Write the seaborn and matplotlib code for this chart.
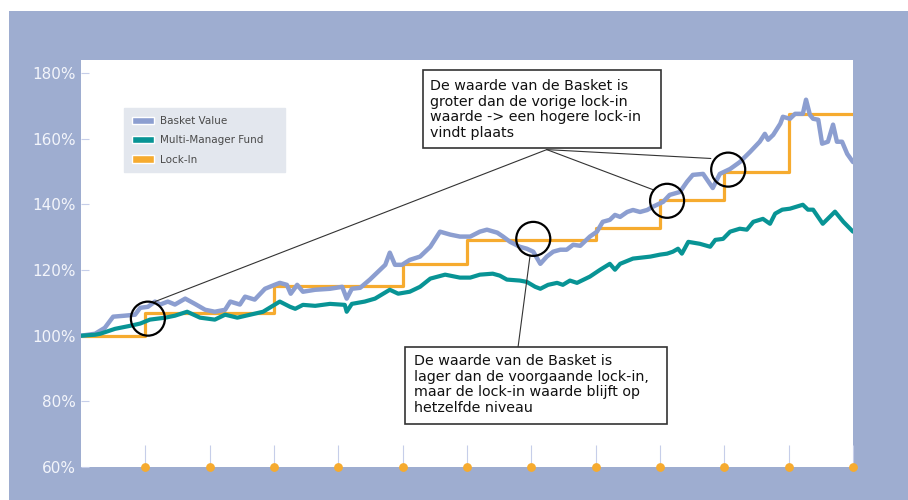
"""Basket value vs. multi-manager fund with lock-in levels."""

import matplotlib

matplotlib.use("Agg")
import matplotlib.pyplot as plt
import seaborn as sns
from matplotlib.patches import Patch, Rectangle

# --- data ----------------------------------------------------------------
basket_x = [0.00, 0.22, 0.37, 0.50, 0.68, 0.84, 0.92, 1.04, 1.15, 1.23,
            1.35, 1.46, 1.62, 1.77, 1.93, 2.08, 2.24, 2.32, 2.47, 2.55,
            2.70, 2.86, 3.01, 3.09, 3.20, 3.26, 3.36, 3.45, 3.64, 3.87,
            4.06, 4.13, 4.21, 4.34, 4.49, 4.65, 4.73, 4.80, 4.88, 4.99,
            5.11, 5.27, 5.35, 5.43, 5.58, 5.74, 5.89, 6.05, 6.20, 6.31,
            6.47, 6.56, 6.67, 6.82, 6.93, 7.03, 7.14, 7.24, 7.34, 7.45,
            7.55, 7.65, 7.76, 7.91, 8.02, 8.11, 8.22, 8.30, 8.38, 8.49,
            8.58, 8.69, 8.80, 8.89, 9.05, 9.15, 9.31, 9.42, 9.51, 9.67,
            9.82, 9.93, 10.09, 10.24, 10.40, 10.55, 10.63, 10.68, 10.76, 10.87,
            10.91, 11.02, 11.10, 11.22, 11.27, 11.33, 11.38, 11.46, 11.52, 11.61,
            11.69, 11.75, 11.83, 11.91, 12.00]
basket_y = [100.0, 100.6, 102.4, 105.8, 106.1, 106.4, 108.5, 108.8, 110.4, 109.5,
            110.4, 109.5, 111.3, 109.7, 107.9, 107.3, 107.9, 110.4, 109.5, 111.9,
            111.0, 114.3, 115.5, 116.1, 115.5, 112.8, 115.5, 113.4, 114.0, 114.3,
            114.9, 111.3, 114.3, 114.6, 117.1, 120.1, 121.6, 125.3, 121.6, 121.6,
            123.1, 124.1, 125.6, 127.1, 131.7, 130.8, 130.2, 130.2, 131.7, 132.3,
            131.4, 130.2, 128.6, 127.1, 126.5, 125.6, 121.9, 124.1, 125.6, 126.2,
            126.2, 127.7, 127.4, 130.2, 131.7, 134.7, 135.3, 136.8, 136.2, 137.7,
            138.3, 137.7, 138.3, 139.3, 140.8, 142.9, 143.8, 146.9, 149.0, 149.3,
            145.0, 149.3, 150.8, 152.9, 156.0, 159.1, 161.5, 159.7, 161.2, 164.6,
            166.7, 166.1, 167.6, 167.6, 171.9, 167.3, 166.1, 165.8, 158.5, 159.1,
            164.3, 159.1, 159.1, 155.4, 152.9]

fund_x = [0.00, 0.22, 0.30, 0.53, 0.76, 0.92, 1.07, 1.31, 1.46, 1.65,
          1.85, 2.08, 2.24, 2.43, 2.63, 2.83, 3.09, 3.25, 3.33, 3.45,
          3.64, 3.87, 4.10, 4.13, 4.21, 4.41, 4.57, 4.80, 4.93, 5.11,
          5.27, 5.43, 5.66, 5.89, 6.05, 6.20, 6.40, 6.51, 6.62, 6.82,
          6.93, 7.06, 7.14, 7.26, 7.40, 7.49, 7.60, 7.71, 7.91, 8.07,
          8.22, 8.30, 8.38, 8.58, 8.85, 9.00, 9.11, 9.20, 9.28, 9.34,
          9.44, 9.62, 9.78, 9.86, 9.98, 10.09, 10.24, 10.35, 10.45, 10.60,
          10.71, 10.79, 10.90, 11.02, 11.22, 11.30, 11.38, 11.53, 11.72, 11.85,
          12.00]
fund_y = [100.0, 100.3, 100.6, 102.1, 103.0, 103.7, 104.9, 105.5, 106.1, 107.3,
          105.5, 104.9, 106.4, 105.5, 106.4, 107.3, 110.4, 108.8, 108.2, 109.4,
          109.1, 109.7, 109.4, 107.3, 109.7, 110.4, 111.3, 114.0, 112.8, 113.4,
          114.9, 117.4, 118.6, 117.7, 117.7, 118.6, 118.9, 118.3, 117.1, 116.8,
          116.4, 114.9, 114.3, 115.5, 116.1, 115.5, 116.8, 116.1, 118.0, 120.1,
          121.9, 120.1, 121.9, 123.5, 124.1, 124.7, 125.0, 125.6, 126.5, 125.0,
          128.6, 128.0, 127.1, 129.2, 129.5, 131.7, 132.6, 132.3, 134.7, 135.6,
          134.1, 137.2, 138.4, 138.7, 139.9, 138.4, 138.4, 134.1, 137.8, 134.7,
          131.7]

lock_x = [0, 1, 3, 5, 6, 8, 9, 10, 11, 12]
lock_y = [100.0, 106.8, 115.0, 122.0, 129.2, 132.8, 141.4, 150.0, 167.6, 167.6]

year_ticks = list(range(1, 13))
pct_ticks = [60, 80, 100, 120, 140, 160, 180]

# lock-in moments that are circled, and where the notes point from
circle_x = [1.04, 7.03, 9.11, 10.06]
circle_y = [105.2, 129.5, 141.1, 150.6]
up_anchor = (7.24, 156.7)
up_targets = [(1.15, 110.4), (8.89, 144.5), (9.79, 154.0)]
down_anchor = (6.79, 96.0)
down_target = (6.98, 124.4)

note_up = ("De waarde van de Basket is\ngroter dan de vorige lock-in\n"
           "waarde -> een hogere lock-in\nvindt plaats")
note_down = ("De waarde van de Basket is\nlager dan de voorgaande lock-in,\n"
             "maar de lock-in waarde blijft op\nhetzelfde niveau")

FRAME = "#9eadd0"
BASKET = "#8c9ed0"
TEAL = "#089495"
ORANGE = "#f6ab2f"
TICK = "#c6cee9"
LEGEND_BG = "#e3e7ee"

W, H = 908, 500


def fx(px):
    return px / W


def fy(py):
    return 1 - py / H


sns.set_style("white")
plt.rcParams["font.family"] = ["DejaVu Sans"]

fig = plt.figure(figsize=(W / 100, H / 100), dpi=100)
fig.patch.set_facecolor("white")
fig.patches.append(
    Rectangle((fx(9), 0), 1 - fx(9), fy(11), transform=fig.transFigure,
              facecolor=FRAME, edgecolor="none", zorder=-10)
)

ax = fig.add_axes([fx(81), fy(467), fx(853) - fx(81), fy(60) - fy(467)])
ax.set_facecolor("white")

sns.lineplot(x=lock_x, y=lock_y, drawstyle="steps-post", color=ORANGE,
             lw=2.3, ax=ax, zorder=2)
sns.lineplot(x=basket_x, y=basket_y, color=BASKET, lw=3.2, ax=ax, zorder=3)
sns.lineplot(x=fund_x, y=fund_y, color=TEAL, lw=3.0, ax=ax, zorder=4)

# circles + leader lines
ax.scatter(circle_x, circle_y, s=600, facecolors="none", edgecolors="black",
           linewidths=1.6, zorder=6)
for tx, ty in up_targets:
    ax.plot([up_anchor[0], tx], [up_anchor[1], ty], color="#333333", lw=0.8,
            zorder=5)
ax.plot([down_anchor[0], down_target[0]], [down_anchor[1], down_target[1]],
        color="#333333", lw=0.8, zorder=5)

# note boxes
for (x0, y0, x1, y1) in [(423, 70, 661, 148), (405, 347, 667, 424)]:
    ax.add_patch(Rectangle((fx(x0), fy(y1)), fx(x1) - fx(x0), fy(y0) - fy(y1),
                           transform=fig.transFigure, facecolor="white",
                           edgecolor="#333333", lw=1.2, zorder=8, clip_on=False))
ax.text(fx(430), fy(79), note_up, transform=fig.transFigure, ha="left",
        va="top", fontsize=10.3, linespacing=1.15, color="#111111", zorder=9)
ax.text(fx(414), fy(354), note_down, transform=fig.transFigure, ha="left",
        va="top", fontsize=10.3, linespacing=1.15, color="#111111", zorder=9)

# legend
handles = [Patch(facecolor=BASKET, label="Basket Value"),
           Patch(facecolor=TEAL, label="Multi-Manager Fund"),
           Patch(facecolor=ORANGE, label="Lock-In")]
leg = ax.legend(handles=handles, loc="upper left",
                bbox_to_anchor=(fx(124), fy(174), fx(285) - fx(124),
                                fy(108) - fy(174)),
                bbox_transform=fig.transFigure, mode="expand", fontsize=7.5,
                frameon=True, facecolor=LEGEND_BG, edgecolor=LEGEND_BG,
                fancybox=False, framealpha=1, handlelength=2.1,
                handleheight=0.7, labelspacing=0.9, borderpad=0.75,
                handletextpad=0.6, borderaxespad=0)
for t in leg.get_texts():
    t.set_color("#4a4a4a")

# axes
ax.set_xlim(0, 12)
ax.set_ylim(60, 184)
ax.set_xticks(year_ticks)
ax.set_yticks(pct_ticks)
ax.set_yticklabels([f"{v}%" for v in pct_ticks])
ax.set_xlabel("")
ax.set_ylabel("")
ax.tick_params(axis="x", direction="in", length=16, width=0.8, color=TICK,
               labelbottom=False, bottom=True)
ax.tick_params(axis="y", direction="in", length=6, width=0.8, color=TICK,
               labelcolor="#f3f5fb", labelsize=11, pad=4, left=True)
for s in ax.spines.values():
    s.set_visible(False)
ax.scatter(year_ticks, [60] * len(year_ticks), s=28, color=ORANGE,
           clip_on=False, zorder=7)

fig.savefig("out.png", dpi=100)
plt.close(fig)
